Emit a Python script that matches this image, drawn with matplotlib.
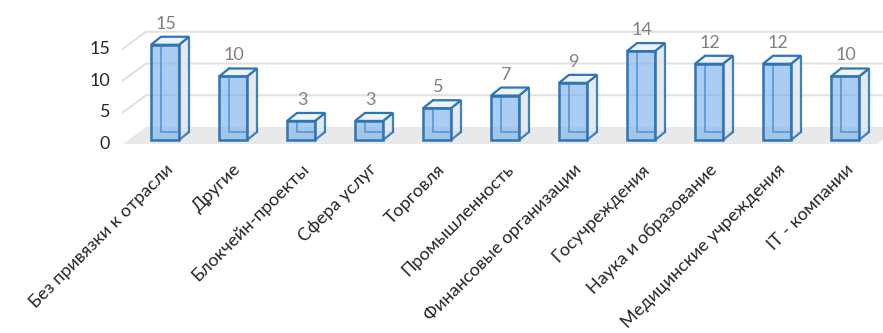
import numpy as np
import matplotlib.pyplot as plt
from matplotlib.patches import Polygon

categories = ['Без привязки к отрасли', 'Другие', 'Блокчейн-проекты', 'Сфера услуг',
              'Торговля', 'Промышленность', 'Финансовые организации', 'Госучреждения',
              'Наука и образование', 'Медицинские учреждения', 'IT - компании']
values = [15, 10, 3, 3, 5, 7, 9, 14, 12, 12, 10]
y_ticks = [0, 5, 10, 15]

plt.rcParams['font.family'] = ['Lato', 'DejaVu Sans']

# one category step = 68 px, one value unit = 6.35 px
PX_X = 1 / 68
PX_Y = 1 / 6.35

fig = plt.figure(figsize=(8.83, 3.33), dpi=100)
ax = fig.add_axes([0, 183 / 333, 1, 150 / 333])
ax.set_xlim(-165 * PX_X, 718 * PX_X)
ax.set_ylim(-10 * PX_Y, 140 * PX_Y)
for s in ax.spines.values():
    s.set_visible(False)

# pseudo-3d depth offsets
bar_w = 28 * PX_X
bdx, bdy = 10 * PX_X, 8 * PX_Y
floor_front_y = -4 * PX_Y
floor_dx, floor_dy = 23 * PX_X, 17 * PX_Y
left_x = -42 * PX_X
right_x = 712 * PX_X

# floor
floor = Polygon([(left_x, floor_front_y), (right_x, floor_front_y),
                 (right_x + floor_dx, floor_front_y + floor_dy),
                 (left_x + floor_dx, floor_front_y + floor_dy)],
                closed=True, facecolor='#e9e9e9', edgecolor='none', zorder=1)
ax.add_patch(floor)

# gridlines on side wall and back wall
grid_c = '#e2e2e2'
for v in y_ticks[1:]:
    ax.plot([left_x, left_x + floor_dx, right_x + floor_dx + 1],
            [floor_front_y + v, floor_front_y + floor_dy + v, floor_front_y + floor_dy + v],
            color=grid_c, lw=1.5, zorder=0.5)

for v in y_ticks:
    ax.text(-55 * PX_X, floor_front_y + v, str(v), ha='right', va='center',
            fontsize=13, color='#262626')

edge_c = '#2e75b6'
for i, v in enumerate(values):
    x0 = i - bar_w / 2
    x1 = i + bar_w / 2
    # hidden back edges, seen through the translucent faces
    ax.plot([x0 + bdx, x0 + bdx, x1 + bdx], [v + bdy, bdy, bdy],
            color=edge_c, lw=1.2, zorder=2)
    side = Polygon([(x1, 0), (x1 + bdx, bdy), (x1 + bdx, v + bdy), (x1, v)],
                   closed=True, facecolor='#e1e8ef', edgecolor=edge_c, lw=1.6,
                   alpha=0.9, zorder=3)
    top = Polygon([(x0, v), (x1, v), (x1 + bdx, v + bdy), (x0 + bdx, v + bdy)],
                  closed=True, facecolor='#eef3f8', edgecolor=edge_c, lw=1.6, zorder=3)
    front = Polygon([(x0, 0), (x1, 0), (x1, v), (x0, v)], closed=True,
                    facecolor=(0.45, 0.68, 0.92, 0.6), edgecolor=edge_c, lw=1.8, zorder=4)
    for p in (side, top, front):
        ax.add_patch(p)
    ax.text(i + 1 * PX_X, v + 16 * PX_Y, str(v), ha='center', va='baseline',
            fontsize=13, color='#808080')

ax.set_yticks([])
ax.set_xticks(range(len(categories)))
ax.set_xticklabels(categories, rotation=45, ha='right', va='top',
                   rotation_mode='anchor', fontsize=13, color='#262626')
ax.tick_params(axis='x', length=0, pad=8)

plt.savefig('out.png', dpi=100)
